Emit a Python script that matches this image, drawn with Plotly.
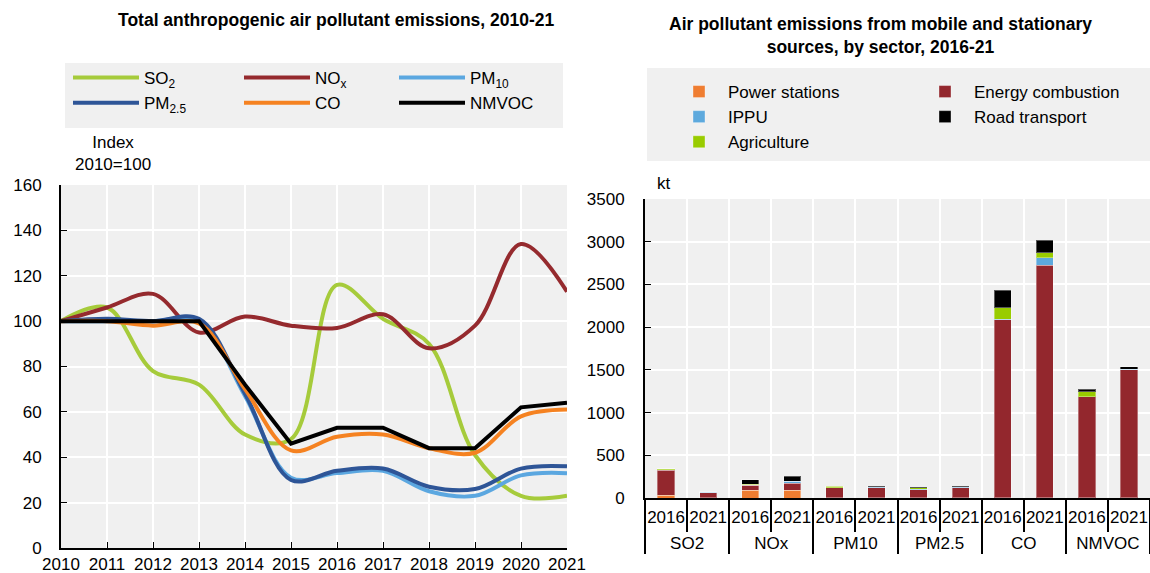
import plotly.graph_objects as go

# Left panel: index 2010=100
years = list(range(2010, 2022))
so2 = [100, 106, 78, 72, 50, 48, 116, 101, 90, 41, 23, 23]
nox = [100, 106, 112, 95, 102, 98, 97, 103, 88, 98, 134, 113]
pm10 = [100, 100, 100, 100, 67, 31, 33, 34, 25, 23, 32, 33]
pm25 = [100, 101, 100, 101, 68, 30, 34, 35, 27, 26, 35, 36]
co = [100, 100, 98, 99, 70, 43, 49, 50, 44, 42, 58, 61]
nmvoc = [100, 100, 100, 100, 72, 46, 53, 53, 44, 44, 62, 64]

# Right panel: kt by sector
pollutants = ["SO2", "NOx", "PM10", "PM2.5", "CO", "NMVOC"]
bar_years = ["2016", "2021"]
power = [35, 2, 90, 90, 3, 2, 2, 2, 5, 5, 3, 3]
energy = [290, 62, 60, 85, 115, 120, 97, 117, 2080, 2720, 1180, 1500]
ippu = [8, 3, 2, 20, 3, 5, 3, 5, 5, 90, 3, 3]
agri = [8, 3, 8, 3, 17, 5, 18, 8, 135, 55, 55, 3]
road = [2, 2, 55, 58, 2, 8, 5, 5, 205, 150, 32, 25]

FONT = "Liberation Sans, Arial, sans-serif"
BG = "#F0F0F0"
W, H = 1150, 573

fig = go.Figure()

lines = [
    ("SO<sub>2</sub>", so2, "#A6CB3B", "spline", "legend"),
    ("PM<sub>2.5</sub>", pm25, "#2E5597", "spline", "legend"),
    ("NO<sub>x</sub>", nox, "#952A2E", "spline", "legend2"),
    ("CO", co, "#F58221", "spline", "legend2"),
    ("PM<sub>10</sub>", pm10, "#5BA7E0", "spline", "legend3"),
    ("NMVOC", nmvoc, "#000000", "linear", "legend3"),
]
# draw order: SO2, NOx, PM10, PM2.5, CO, NMVOC
order = [0, 2, 4, 1, 3, 5]
for i in order:
    name, vals, col, shape, leg = lines[i]
    fig.add_trace(go.Scatter(
        x=years, y=vals, name=name, mode="lines",
        line=dict(color=col, width=4, shape=shape),
        legend=leg, legendrank=i, xaxis="x", yaxis="y",
    ))

# labels styled at 17px on a small base font so the group row sits lower
def big(s):
    return "<span style='font-size:17px'>" + s + "</span>"

groups = ["<br>" + big(p) for p in pollutants]
yrs = [big(y) for y in bar_years]
xcat = [[g for g in groups for _ in yrs], yrs * len(pollutants)]
sectors = [
    ("Power stations", power, "#EF7D31", "legend4"),
    ("Energy combustion", energy, "#93272D", "legend5"),
    ("IPPU", ippu, "#5DA9DD", "legend4"),
    ("Agriculture", agri, "#99CC00", "legend4"),
    ("Road transport", road, "#000000", "legend5"),
]
for i, (name, vals, col, leg) in enumerate(sectors):
    fig.add_trace(go.Bar(
        x=xcat, y=vals, name=name,
        marker=dict(color=col, line=dict(color="rgba(255,255,255,0.35)", width=1)),
        legend=leg, legendrank=i, xaxis="x2", yaxis="y2",
    ))

tickfont = dict(family=FONT, size=17, color="#000000")
legfont = dict(family=FONT, size=17, color="#000000")

def leg(x, y, iw):
    return dict(x=x / W, y=1 - y / H, xanchor="left", yanchor="top", orientation="v",
                bgcolor="rgba(0,0,0,0)", font=legfont, traceorder="normal",
                tracegroupgap=0, itemwidth=iw)

fig.update_layout(
    width=W, height=H, template="none",
    margin=dict(l=0, r=0, t=0, b=0, autoexpand=False),
    paper_bgcolor="white", plot_bgcolor=BG,
    font=dict(family=FONT, size=17, color="#000000"),
    barmode="stack", bargap=0.59,
    legend=leg(68, 60, 66), legend2=leg(239, 60, 66), legend3=leg(394, 60, 66),
    legend4=leg(670, 74, 48), legend5=leg(916, 74, 48),
    xaxis=dict(domain=[61 / W, 567 / W], range=[2010, 2021], dtick=1, tick0=2010,
               showgrid=True, gridcolor="white", gridwidth=2, showline=True,
               linecolor="black", linewidth=2, ticks="inside", ticklen=6,
               tickcolor="black", tickfont=tickfont, zeroline=False, tickangle=0),
    yaxis=dict(domain=[1 - 548 / H, 1 - 185 / H], range=[0, 160], dtick=20,
               showgrid=True, gridcolor="white", gridwidth=2, showline=True,
               linecolor="black", linewidth=2, ticks="inside", ticklen=6,
               tickcolor="black", tickfont=tickfont, zeroline=False,
               ticklabelstandoff=14),
    xaxis2=dict(domain=[645 / W, 1.0], anchor="y2", type="multicategory",
                showgrid=True, gridcolor="white", gridwidth=2, showline=True,
                linecolor="black", linewidth=2, ticks="outside", ticklen=32,
                tickwidth=2, tickcolor="black", tickangle=0,
                tickfont=dict(family=FONT, size=11, color="#000000"),
                showdividers=True, dividercolor="black", dividerwidth=2,
                ticklabelstandoff=10),
    yaxis2=dict(domain=[1 - 498 / H, 1 - 199 / H], anchor="x2", range=[0, 3500], dtick=500,
                showgrid=True, gridcolor="white", gridwidth=2, showline=True,
                linecolor="black", linewidth=2, ticks="inside", ticklen=6,
                tickcolor="black", tickfont=tickfont, zeroline=False,
                ticklabelstandoff=15),
    shapes=[
        dict(type="rect", xref="paper", yref="paper", x0=65 / W, x1=563 / W,
             y0=1 - 128 / H, y1=1 - 63 / H, fillcolor=BG, line=dict(width=0), layer="below"),
        dict(type="rect", xref="paper", yref="paper", x0=647 / W, x1=1.0,
             y0=1 - 161 / H, y1=1 - 68 / H, fillcolor=BG, line=dict(width=0), layer="below"),
    ],
    annotations=[
        dict(text="<b>Total anthropogenic air pollutant emissions, 2010-21</b>",
             x=336 / W, y=1 - 20 / H, xref="paper", yref="paper", showarrow=False,
             xanchor="center", yanchor="middle", font=dict(family=FONT, size=17.5)),
        dict(text="<b>Air pollutant emissions from mobile and stationary<br>sources, by sector, 2016-21</b>",
             x=880 / W, y=1 - 36 / H, xref="paper", yref="paper", showarrow=False,
             xanchor="center", yanchor="middle", font=dict(family=FONT, size=17.5)),
        dict(text="Index<br>2010=100", x=113 / W, y=1 - 153 / H, xref="paper", yref="paper",
             showarrow=False, xanchor="center", yanchor="middle", font=dict(family=FONT, size=17)),
        dict(text="kt", x=655 / W, y=1 - 183 / H, xref="paper", yref="paper", xanchor="left",
             showarrow=False, yanchor="middle", font=dict(family=FONT, size=17)),
    ],
)

fig.write_html("out.html", config={"displayModeBar": False},
               post_script="document.body.style.margin='0';")
